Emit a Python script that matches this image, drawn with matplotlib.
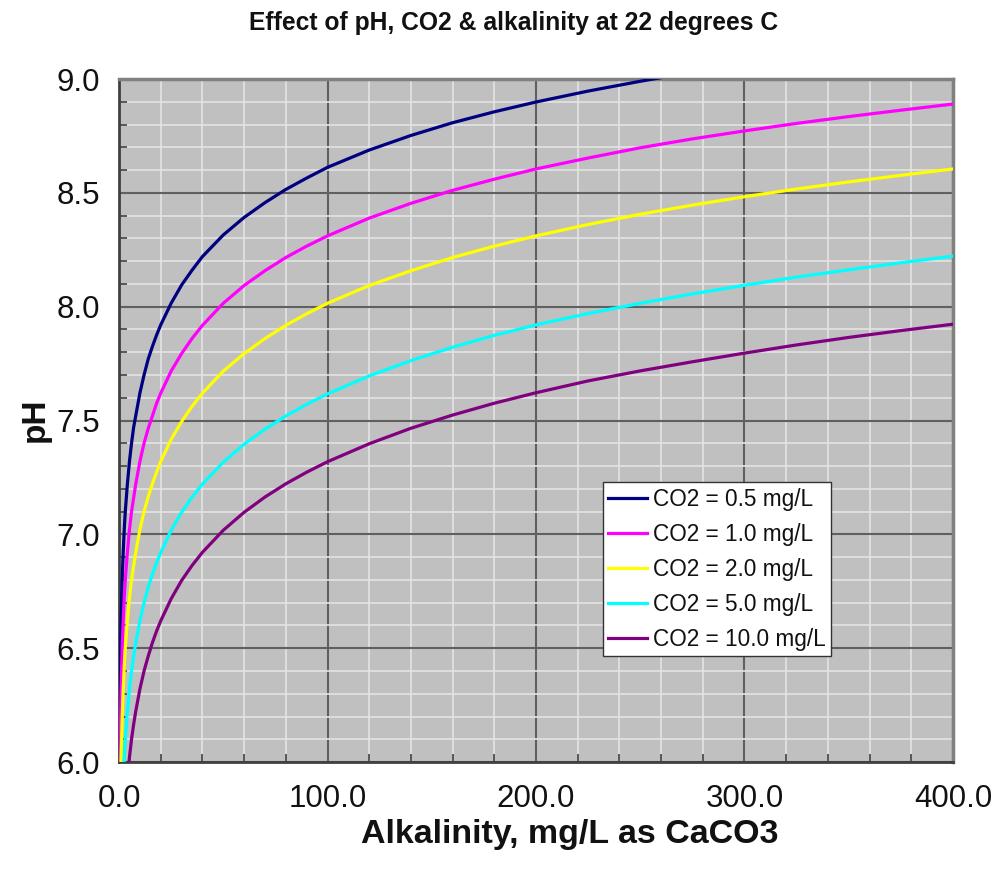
import matplotlib
matplotlib.use("Agg")
import matplotlib.pyplot as plt
from matplotlib.ticker import MultipleLocator, FixedLocator

plt.rcParams['font.family'] = ['Liberation Sans', 'DejaVu Sans']

# ---------------- data ----------------
title = "Effect of pH, CO2 & alkalinity at 22 degrees C"
x_label = "Alkalinity, mg/L as CaCO3"
y_label = "pH"

series_labels = ["CO2 = 0.5 mg/L", "CO2 = 1.0 mg/L", "CO2 = 2.0 mg/L",
                 "CO2 = 5.0 mg/L", "CO2 = 10.0 mg/L"]
series_colors = ["#000080", "#FF00FF", "#FFFF00", "#00FFFF", "#800080"]

# CO2 = 0.5 mg/L
alk_co2_05 = [0.2, 0.25, 0.5, 0.75, 1, 1.5, 2, 2.5, 3, 4, 5, 6, 7, 8, 10, 12,
              14, 16, 18, 20, 25, 30, 35, 40, 50, 60, 70, 80, 90, 100, 120,
              140, 160, 180, 200, 225, 250, 275]
ph_co2_05 = [5.92, 6.02, 6.32, 6.50, 6.62, 6.80, 6.92, 7.02, 7.10, 7.22, 7.32,
             7.40, 7.47, 7.52, 7.62, 7.70, 7.77, 7.825, 7.875, 7.92, 8.015,
             8.095, 8.16, 8.22, 8.315, 8.392, 8.457, 8.515, 8.565, 8.612,
             8.688, 8.752, 8.808, 8.856, 8.899, 8.947, 8.99, 9.03]

# CO2 = 1.0 mg/L
alk_co2_10 = [0.4, 0.5, 0.75, 1, 1.5, 2, 2.5, 3, 4, 5, 6, 7, 8, 10, 12, 14,
              16, 18, 20, 25, 30, 35, 40, 50, 60, 70, 80, 90, 100, 120, 140,
              160, 180, 200, 225, 250, 275, 300, 325, 350, 375, 400]
ph_co2_10 = [5.92, 6.02, 6.19, 6.32, 6.50, 6.62, 6.72, 6.80, 6.92, 7.02, 7.10,
             7.16, 7.22, 7.32, 7.40, 7.465, 7.52, 7.575, 7.62, 7.717, 7.794,
             7.86, 7.918, 8.015, 8.093, 8.158, 8.216, 8.266, 8.311, 8.389,
             8.454, 8.511, 8.56, 8.605, 8.653, 8.698, 8.737, 8.772, 8.805,
             8.835, 8.863, 8.89]

# CO2 = 2.0 mg/L
alk_co2_20 = [0.9, 1, 1.5, 2, 2.5, 3, 4, 5, 6, 7, 8, 10, 12, 14, 16, 18, 20,
              25, 30, 35, 40, 50, 60, 70, 80, 90, 100, 120, 140, 160, 180, 200,
              225, 250, 275, 300, 325, 350, 375, 400]
ph_co2_20 = [5.97, 6.02, 6.19, 6.32, 6.42, 6.50, 6.62, 6.72, 6.80, 6.86, 6.92,
             7.02, 7.10, 7.165, 7.222, 7.273, 7.32, 7.417, 7.495, 7.562, 7.62,
             7.717, 7.794, 7.86, 7.918, 7.969, 8.015, 8.093, 8.158, 8.216,
             8.266, 8.311, 8.361, 8.406, 8.446, 8.483, 8.517, 8.548, 8.577,
             8.605]

# CO2 = 5.0 mg/L
alk_co2_50 = [2, 2.5, 3, 4, 5, 6, 7, 8, 10, 12, 14, 16, 18, 20, 25, 30, 35,
              40, 50, 60, 70, 80, 90, 100, 120, 140, 160, 180, 200, 225, 250,
              275, 300, 325, 350, 375, 400]
ph_co2_50 = [5.92, 6.02, 6.10, 6.22, 6.32, 6.40, 6.465, 6.522, 6.62, 6.70,
             6.767, 6.825, 6.876, 6.92, 7.018, 7.097, 7.163, 7.221, 7.317,
             7.396, 7.462, 7.52, 7.571, 7.617, 7.696, 7.763, 7.822, 7.874,
             7.92, 7.97, 8.015, 8.056, 8.094, 8.13, 8.162, 8.193, 8.222]

# CO2 = 10.0 mg/L
alk_co2_100 = [4, 5, 6, 7, 8, 10, 12, 14, 16, 18, 20, 25, 30, 35, 40, 50, 60,
               70, 80, 90, 100, 120, 140, 160, 180, 200, 225, 250, 275, 300,
               325, 350, 375, 400]
ph_co2_100 = [5.92, 6.02, 6.10, 6.165, 6.222, 6.32, 6.40, 6.465, 6.524,
              6.575, 6.62, 6.717, 6.797, 6.863, 6.921, 7.018, 7.097, 7.164,
              7.222, 7.273, 7.319, 7.398, 7.466, 7.524, 7.576, 7.622, 7.674,
              7.718, 7.758, 7.796, 7.832, 7.865, 7.895, 7.923]

x_ticks = [0, 100, 200, 300, 400]
x_tick_labels = ["0.0", "100.0", "200.0", "300.0", "400.0"]
y_ticks = [6.0, 6.5, 7.0, 7.5, 8.0, 8.5, 9.0]
y_tick_labels = ["6.0", "6.5", "7.0", "7.5", "8.0", "8.5", "9.0"]

# ---------------- figure ----------------
fig = plt.figure(figsize=(9.96, 8.75), dpi=100)
ax = fig.add_axes([0.1195, 0.1291, 0.8373, 0.7806])
ax.set_facecolor("#C0C0C0")
ax.set_axisbelow(True)

series_x = [alk_co2_05, alk_co2_10, alk_co2_20, alk_co2_50, alk_co2_100]
series_y = [ph_co2_05, ph_co2_10, ph_co2_20, ph_co2_50, ph_co2_100]
for xs, ys, lab, col in zip(series_x, series_y, series_labels, series_colors):
    ax.plot(xs, ys, color=col, lw=2.3, label=lab, solid_joinstyle="round", zorder=3)

ax.set_xlim(0, 400)
ax.set_ylim(6.0, 9.0)
ax.xaxis.set_major_locator(FixedLocator(x_ticks))
ax.set_xticklabels(x_tick_labels)
ax.yaxis.set_major_locator(FixedLocator(y_ticks))
ax.set_yticklabels(y_tick_labels)
ax.xaxis.set_minor_locator(MultipleLocator(20))
ax.yaxis.set_minor_locator(MultipleLocator(0.1))

ax.grid(which="minor", color="#E4E4E4", lw=1.2, zorder=0)
ax.grid(which="major", color="#606060", lw=1.5, zorder=1)

ax.tick_params(which="both", direction="in", colors="#404040", top=False, right=False)
ax.tick_params(which="major", length=0, labelsize=22.5, labelcolor="#111111")
ax.tick_params(axis="y", which="major", pad=13.5)
ax.tick_params(axis="x", which="major", pad=16)
ax.tick_params(which="minor", length=6, width=1.2)

for side in ["left", "bottom"]:
    ax.spines[side].set_color("#404040")
    ax.spines[side].set_linewidth(2.0)
for side in ["top", "right"]:
    ax.spines[side].set_color("#808080")
    ax.spines[side].set_linewidth(2.5)

fig.text(570 / 996, 1 - 834 / 875, x_label, ha="center", va="center",
         fontsize=24.5, fontweight="bold", color="#111111")
fig.text(35 / 996, 1 - 420 / 875, y_label, ha="center", va="center",
         rotation=90, fontsize=24, fontweight="bold", color="#111111")
fig.text(514 / 996, 1 - 23 / 875, title, ha="center", va="center",
         fontsize=17.7, fontweight="bold", color="#111111")

leg = ax.legend(loc="upper left", bbox_to_anchor=(0.580, 0.410), fontsize=16.3,
                frameon=True, fancybox=False, framealpha=1, edgecolor="#333333",
                handlelength=1.7, handletextpad=0.25, labelspacing=0.53,
                borderpad=0.25, borderaxespad=0)
leg.get_frame().set_linewidth(1.0)
for t in leg.get_texts():
    t.set_color("#111111")

fig.savefig("out.png", dpi=100)
